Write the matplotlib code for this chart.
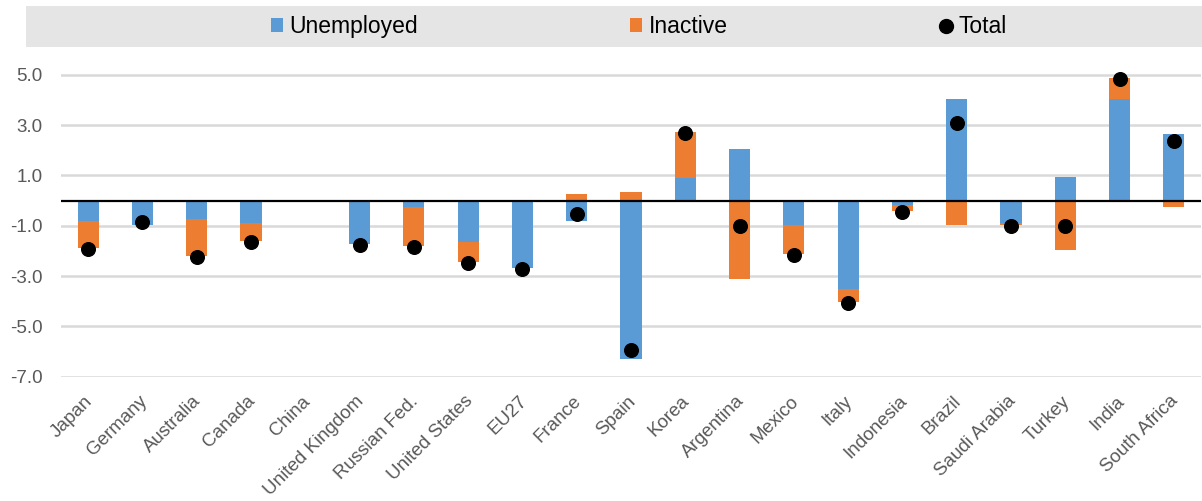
import numpy as np
import matplotlib
matplotlib.use("Agg")
import matplotlib.pyplot as plt
from matplotlib.patches import Patch, Rectangle
from matplotlib.lines import Line2D
import matplotlib.transforms as mtransforms

categories = ["Japan", "Germany", "Australia", "Canada", "China", "United Kingdom",
              "Russian Fed.", "United States", "EU27", "France", "Spain", "Korea",
              "Argentina", "Mexico", "Italy", "Indonesia", "Brazil", "Saudi Arabia",
              "Turkey", "India", "South Africa"]
unemployed = [-0.83, -0.97, -0.75, -0.91, np.nan, -1.73, -0.26, -1.66, -2.67, -0.81,
              -6.28, 0.88, 2.03, -0.97, -3.53, -0.19, 4.02, -0.91, 0.95, 4.02, 2.64]
inactive = [-1.07, 0.0, -1.45, -0.69, np.nan, 0.0, -1.55, -0.77, 0.0, 0.26,
            0.34, 1.84, -3.12, -1.14, -0.52, -0.24, -0.96, -0.05, -1.98, 0.85, -0.27]
total = [-1.94, -0.87, -2.26, -1.64, np.nan, -1.78, -1.86, -2.47, -2.71, -0.55,
         -5.94, 2.69, -1.00, -2.18, -4.09, -0.47, 3.08, -1.01, -1.01, 4.84, 2.38]
yticks = [-7.0, -5.0, -3.0, -1.0, 1.0, 3.0, 5.0]

BLUE = "#5B9BD5"
ORANGE = "#ED7D31"
GRID = "#D9D9D9"
TXT = "#595959"

plt.rcParams['font.family'] = ['Liberation Sans', 'DejaVu Sans']

W, H = 1202, 501
fig = plt.figure(figsize=(W / 100, H / 100), dpi=100)
ax = fig.add_axes([61 / W, 1 - 376.7 / H, (1201 - 61) / W, (376.7 - 62.1) / H])

x = np.arange(len(categories))
u = np.array(unemployed, dtype=float)
i_ = np.array(inactive, dtype=float)
t = np.array(total, dtype=float)

# Excel-style stacking: positives and negatives stacked separately
bottom_i = np.where(np.sign(i_) == np.sign(u), u, 0.0)
bottom_i = np.nan_to_num(bottom_i)

bw = 0.39
ax.bar(x, np.nan_to_num(u), width=bw, color=BLUE, zorder=2)
ax.bar(x, np.nan_to_num(i_), width=bw, bottom=bottom_i, color=ORANGE, zorder=2)
ax.plot(x, t, 'o', color='black', ms=9.8, zorder=4, linestyle='none')

ax.set_xlim(-0.5, len(categories) - 0.5)
ax.set_ylim(-7.0, 5.5)
ax.set_yticks(yticks)
ax.set_yticklabels([f"{v:.1f}" for v in yticks])
ax.yaxis.grid(True, color=GRID, linewidth=1.8, zorder=0)
ax.set_axisbelow(True)
ax.axhline(0, color='black', linewidth=1.6, zorder=3)
for s in ax.spines.values():
    s.set_visible(False)
ax.tick_params(axis='y', length=0, pad=13, labelsize=13.5, labelcolor=TXT)
ax.tick_params(axis='x', length=0, pad=11.5, labelsize=13.5, labelcolor=TXT)
ax.set_xticks(x)
ax.set_xticklabels(categories, rotation=45, ha='right', va='top', rotation_mode='anchor')
offset = mtransforms.ScaledTranslation(-3 / 72, 0, fig.dpi_scale_trans)
for lab in ax.get_xticklabels():
    lab.set_transform(lab.get_transform() + offset)

# legend band
fig.patches.append(Rectangle((26 / W, 1 - 47 / H), (W - 26) / W, 41 / H,
                             transform=fig.transFigure, facecolor="#E5E5E5",
                             edgecolor='none', zorder=0))
handles = [Patch(facecolor=BLUE, edgecolor='none'),
           Patch(facecolor=ORANGE, edgecolor='none'),
           Line2D([], [], marker='o', color='black', linestyle='none', ms=10)]
leg = fig.legend(handles, ["Unemployed", "Inactive", "Total"], loc='center',
                 bbox_to_anchor=(639 / W, 1 - 26.5 / H), ncol=3, frameon=False,
                 fontsize=16.5, handlelength=0.52, handleheight=0.52, handletextpad=0.3,
                 columnspacing=9.25, labelcolor='black')

fig.savefig("out.png", dpi=100)
